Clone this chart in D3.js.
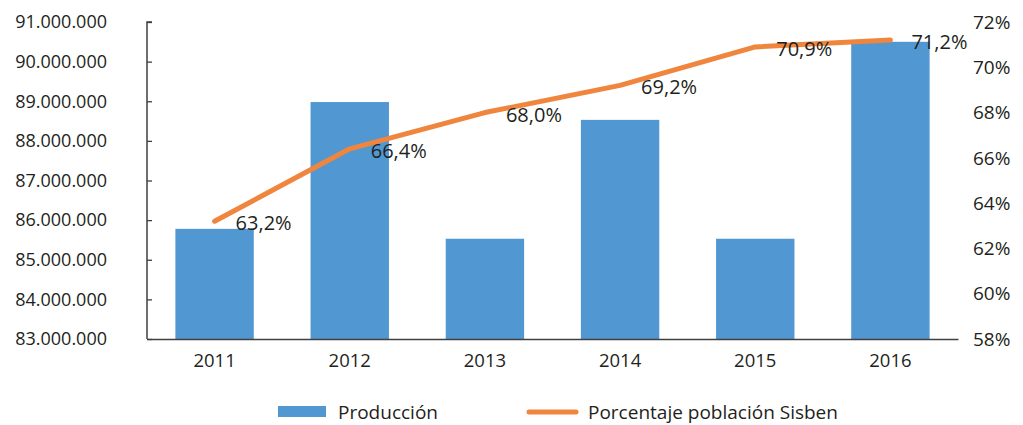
<!DOCTYPE html>
<html>
<head>
<meta charset="utf-8">
<script src="https://cdn.jsdelivr.net/npm/d3@7"></script>
<style>
  html, body { margin: 0; padding: 0; background: #fff; }
  svg text { font-family: "Open Sans", "Lato", sans-serif; fill: #231f20; }
</style>
</head>
<body>
<svg id="chart" width="1023" height="425"></svg>
<script>
const years = ["2011", "2012", "2013", "2014", "2015", "2016"];
const produccion = [85780000, 88980000, 85530000, 88530000, 85530000, 90500000];
const porcentaje = [63.2, 66.4, 68.0, 69.2, 70.9, 71.2];
const leftTicks = [83000000, 84000000, 85000000, 86000000, 87000000, 88000000, 89000000, 90000000, 91000000];
const rightTicks = [58, 60, 62, 64, 66, 68, 70, 72];
const seriesNames = ["Producción", "Porcentaje población Sisben"];

const barColor = "#5197d2";
const lineColor = "#f0853d";
const axisColor = "#404040";

const svg = d3.select("#chart");
const pLeft = 147, pRight = 958, pTop = 22, pBottom = 339;

const x = d3.scaleBand().domain(years).range([pLeft, pRight]).paddingInner(0.42).paddingOuter(0.21);
const yL = d3.scaleLinear().domain([83000000, 91000000]).range([pBottom, pTop]);
const yR = d3.scaleLinear().domain([58, 72]).range([pBottom, pTop]);

const fmtL = d => d3.format(",")(d).replace(/,/g, ".");

// bars
svg.append("g").selectAll("rect").data(produccion).join("rect")
  .attr("x", (d, i) => x(years[i]))
  .attr("width", x.bandwidth())
  .attr("y", d => yL(d))
  .attr("height", d => pBottom - yL(d))
  .attr("fill", barColor);

// left axis
const gL = svg.append("g").attr("transform", `translate(${pLeft},0)`)
  .call(d3.axisRight(yL).tickValues(leftTicks).tickSize(5).tickFormat(""));
gL.select(".domain").attr("stroke", axisColor).attr("stroke-width", 1.5).attr("d", `M5,${pTop}H0V${pBottom}`);
gL.selectAll(".tick line").attr("stroke", axisColor).attr("stroke-width", 1.3);
svg.append("g").selectAll("text").data(leftTicks).join("text")
  .attr("x", 107).attr("y", d => yL(d)).attr("dy", "0.35em")
  .attr("text-anchor", "end").attr("font-size", 18)
  .text(fmtL);

// x axis
const gX = svg.append("g").attr("transform", `translate(0,${pBottom})`)
  .call(d3.axisBottom(x).tickSize(0).tickPadding(15));
gX.select(".domain").attr("stroke", axisColor).attr("stroke-width", 1.5);
gX.selectAll("text").attr("font-size", 18.5).style("font-family", '"Open Sans", sans-serif').attr("fill", "#231f20");

// right axis labels
svg.append("g").selectAll("text").data(rightTicks).join("text")
  .attr("x", 973).attr("y", d => yR(d)).attr("dy", "0.35em")
  .attr("text-anchor", "start").attr("font-size", 19)
  .text(d => d + "%");

// line
const cx = i => x(years[i]) + x.bandwidth() / 2;
svg.append("path").datum(porcentaje)
  .attr("fill", "none").attr("stroke", lineColor).attr("stroke-width", 5)
  .attr("stroke-linecap", "round").attr("stroke-linejoin", "round")
  .attr("d", d3.line().x((d, i) => cx(i)).y(d => yR(d)));

// line labels
svg.append("g").selectAll("text").data(porcentaje).join("text")
  .attr("x", (d, i) => cx(i) + 21).attr("y", d => yR(d) + 2).attr("dy", "0.35em")
  .attr("font-size", 20)
  .text(d => d.toFixed(1).replace(".", ",") + "%");

// legend
const lg = svg.append("g");
lg.append("rect").attr("x", 278).attr("y", 406).attr("width", 48).attr("height", 11).attr("fill", barColor);
lg.append("text").attr("x", 338).attr("y", 412).attr("dy", "0.35em").attr("font-size", 19).text(seriesNames[0]);
lg.append("line").attr("x1", 529).attr("x2", 576).attr("y1", 412).attr("y2", 412)
  .attr("stroke", lineColor).attr("stroke-width", 5).attr("stroke-linecap", "round");
lg.append("text").attr("x", 588).attr("y", 412).attr("dy", "0.35em").attr("font-size", 19).text(seriesNames[1]);
</script>
</body>
</html>
